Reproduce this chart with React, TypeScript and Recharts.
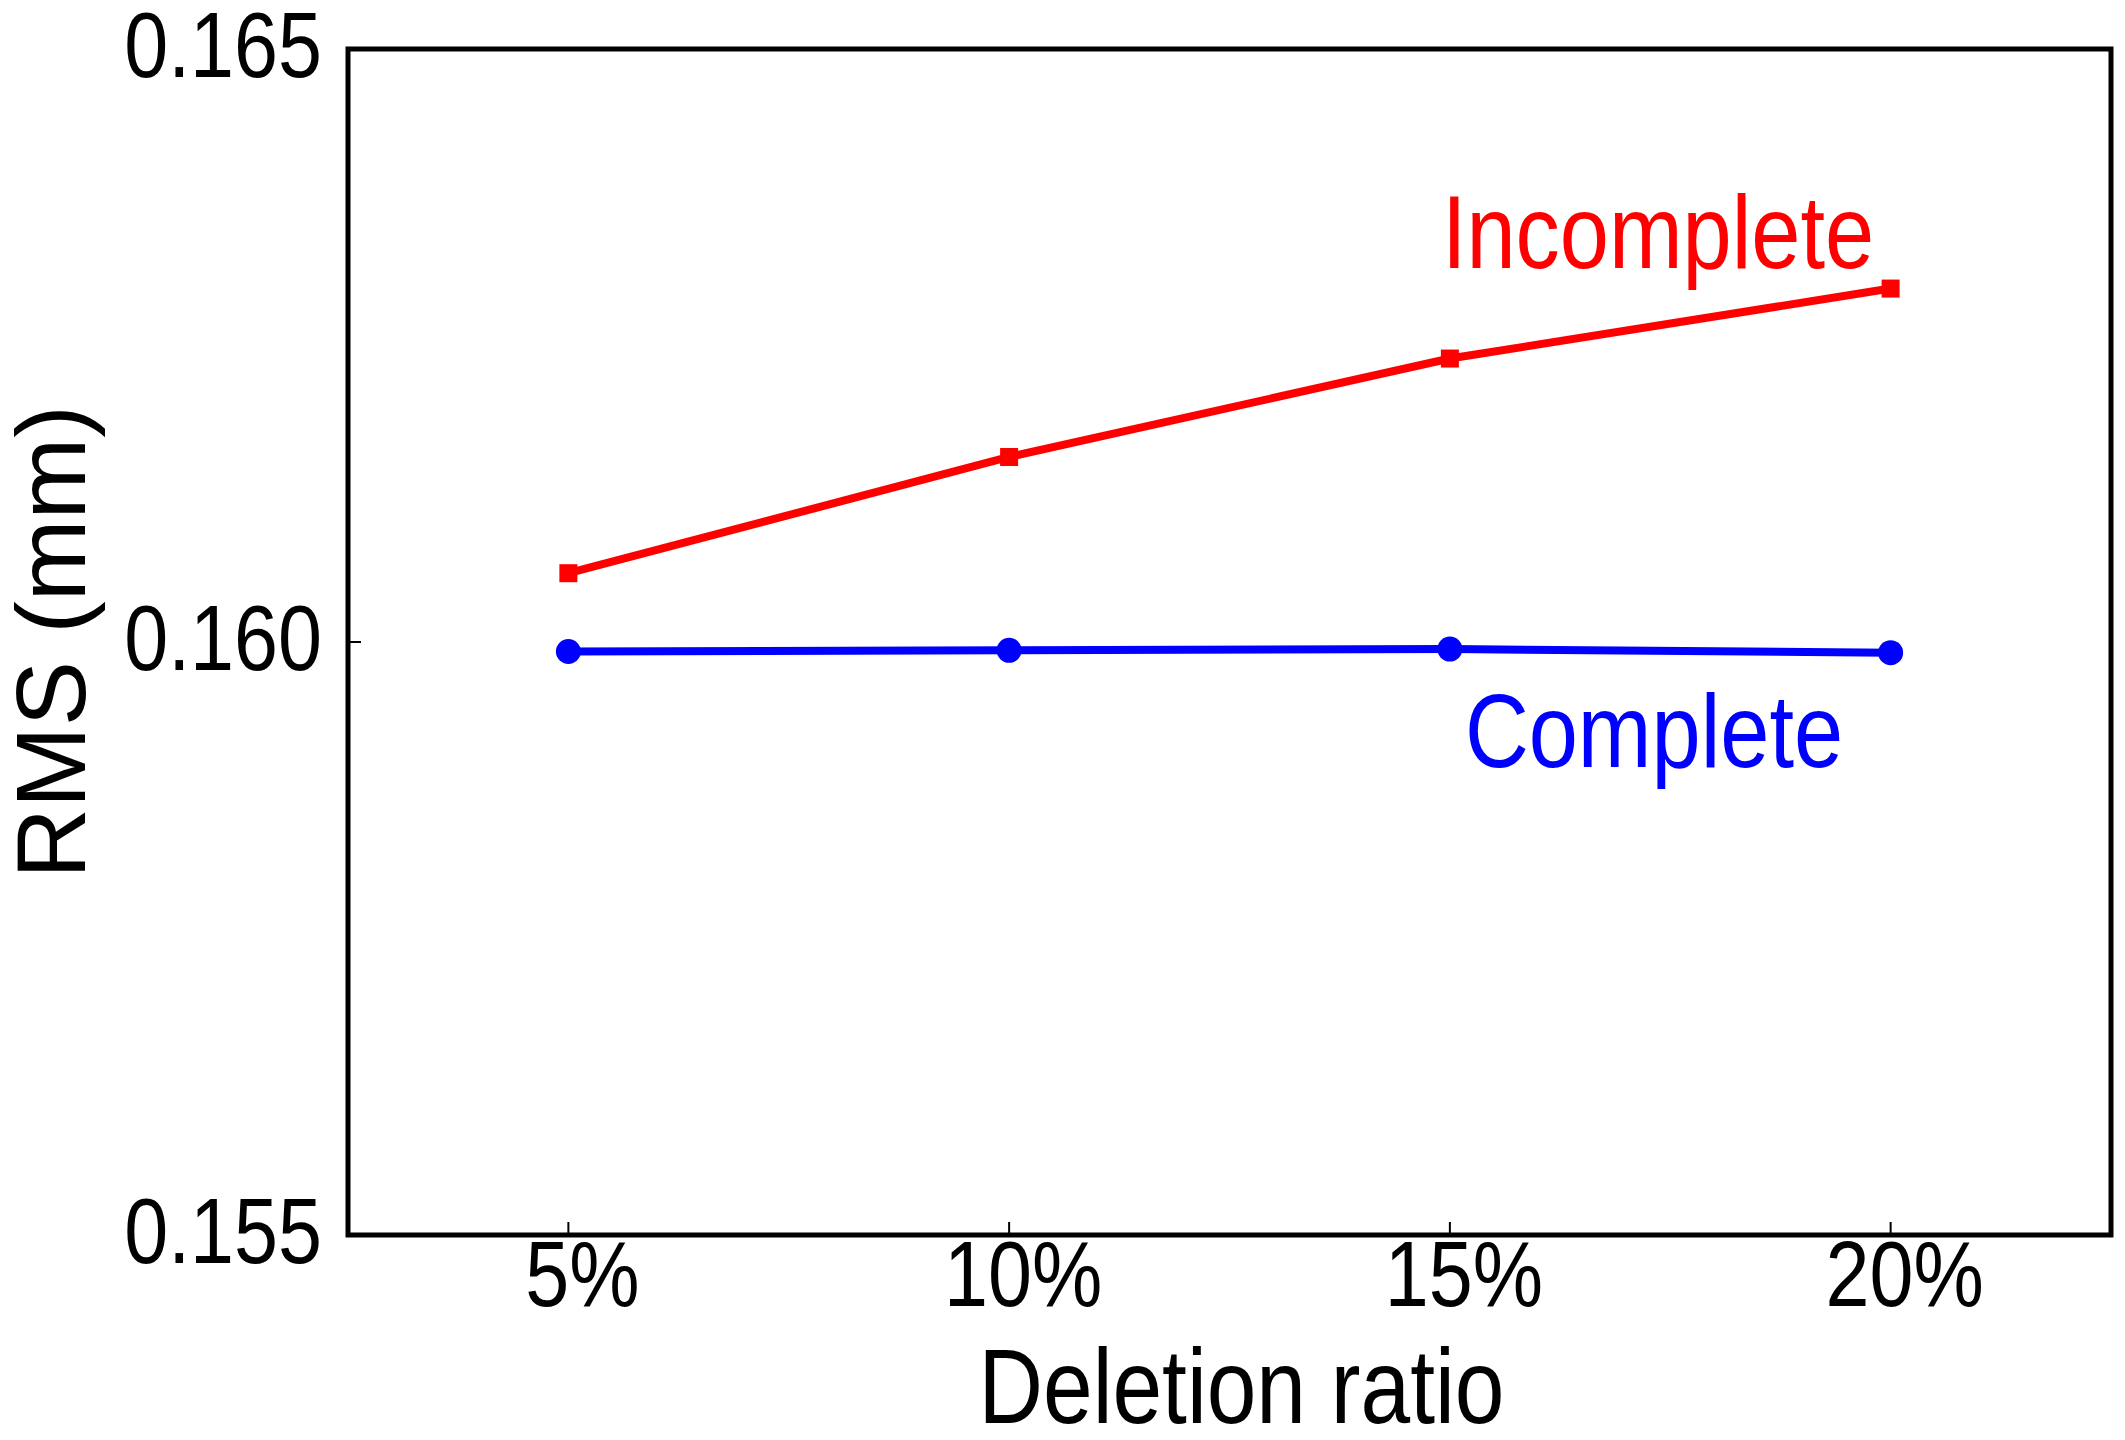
import React from "react";
import {
  LineChart,
  Line,
  XAxis,
  YAxis,
  ReferenceDot,
  ReferenceArea,
} from "recharts";

// deletion ratios on the x axis
const ratios = ["5%", "10%", "15%", "20%"];
// RMS (mm)
const incomplete = [0.16058, 0.16156, 0.16239, 0.16298];
const complete = [0.15992, 0.15993, 0.15994, 0.15991];
const yTicks = [0.155, 0.16, 0.165];
const yDomain = [0.155, 0.165];

// in-plot series names
const notes = [
  { text: "Incomplete", x: "15%", y: 0.16315, color: "#ff0000", dx: -8 },
  { text: "Complete", x: "15%", y: 0.15895, color: "#0000ff", dx: 15 },
];

const SANS = '"Liberation Sans", Arial, Helvetica, sans-serif';
// the figure's lettering is a condensed Helvetica
const SQUEEZE = "scale(0.85,1)";

const data = ratios.map((r, i) => ({
  ratio: r,
  incomplete: incomplete[i],
  complete: complete[i],
}));

const SquareDot = (props: any) => {
  const { cx, cy } = props;
  if (cx == null || cy == null) return null;
  return <rect x={cx - 9} y={cy - 9} width={18} height={18} fill="#ff0000" />;
};

const RoundDot = (props: any) => {
  const { cx, cy } = props;
  if (cx == null || cy == null) return null;
  return <circle cx={cx} cy={cy} r={12.5} fill="#0000ff" />;
};

const X_GAP = 39;
const Y_GAP = 26;
const TICK_LEN = 13;

const XTick = (props: any) => {
  const { x, y, payload } = props;
  return (
    <g>
      <line x1={x} x2={x} y1={y - X_GAP} y2={y - X_GAP - TICK_LEN} stroke="#000" strokeWidth={2} />
      <g transform={`translate(${x + 14},${y - 34})`}>
        <text transform={SQUEEZE} textAnchor="middle" dy="0.71em" fontFamily={SANS} fontSize={93} fill="#000">
          {payload.value}
        </text>
      </g>
    </g>
  );
};

const YTick = (props: any) => {
  const { x, y, payload } = props;
  return (
    <g>
      <line x1={x + Y_GAP} x2={x + Y_GAP + TICK_LEN} y1={y} y2={y} stroke="#000" strokeWidth={2} />
      <g transform={`translate(${x},${y - 5})`}>
        <text transform={SQUEEZE} textAnchor="end" dy="0.355em" fontFamily={SANS} fontSize={93} fill="#000">
          {Number(payload.value).toFixed(3)}
        </text>
      </g>
    </g>
  );
};

const YTitle = (props: any) => {
  const { x, y, height } = props.viewBox;
  const cx = x + 77;
  const cy = y + height / 2;
  return (
    <text
      x={cx}
      y={cy}
      transform={`rotate(-90 ${cx} ${cy})`}
      textAnchor="middle"
      fontFamily={SANS}
      fontSize={98}
      fill="#000"
    >
      RMS (mm)
    </text>
  );
};

const XTitle = (props: any) => {
  const { x, y, width } = props.viewBox;
  return (
    <g transform={`translate(${x + width / 2 + 12},${y + 188})`}>
      <text transform={SQUEEZE} textAnchor="middle" fontFamily={SANS} fontSize={105} fill="#000">
        Deletion ratio
      </text>
    </g>
  );
};

export default function App() {
  return (
    <div style={{ width: 2109, height: 1424, background: "#fff" }}>
      <LineChart
        width={2109}
        height={1424}
        data={data}
        margin={{ top: 41, right: 6, bottom: 0, left: 0 }}
      >
        <XAxis
          dataKey="ratio"
          scale="band"
          height={197}
          axisLine={false}
          tickLine={false}
          tickSize={0}
          tickMargin={X_GAP}
          tick={<XTick />}
          label={<XTitle />}
        />
        <YAxis
          width={340}
          domain={yDomain}
          ticks={yTicks}
          type="number"
          allowDataOverflow
          axisLine={false}
          tickLine={false}
          tickSize={0}
          tickMargin={Y_GAP}
          tick={<YTick />}
          label={<YTitle />}
        />
        <ReferenceArea
          y1={yDomain[0]}
          y2={yDomain[1]}
          fill="none"
          stroke="#000"
          strokeWidth={5}
          ifOverflow="visible"
        />
        <Line
          dataKey="incomplete"
          stroke="#ff0000"
          strokeWidth={8}
          dot={<SquareDot />}
          activeDot={false}
          isAnimationActive={false}
        />
        <Line
          dataKey="complete"
          stroke="#0000ff"
          strokeWidth={8}
          dot={<RoundDot />}
          activeDot={false}
          isAnimationActive={false}
        />
        {notes.map((n) => (
          <ReferenceDot
            key={n.text}
            x={n.x}
            y={n.y}
            r={0}
            shape={(p: any) => (
              <g transform={`translate(${p.cx + n.dx},${p.cy})`}>
                <text transform={SQUEEZE} fill={n.color} fontFamily={SANS} fontSize={104}>
                  {n.text}
                </text>
              </g>
            )}
          />
        ))}
      </LineChart>
    </div>
  );
}
